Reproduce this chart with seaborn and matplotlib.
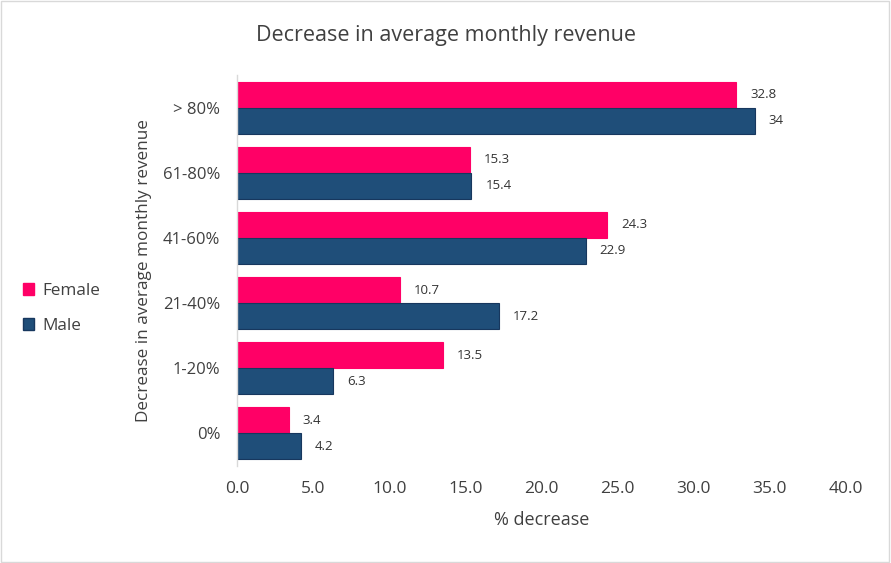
import matplotlib
matplotlib.use("Agg")
import matplotlib.pyplot as plt
import seaborn as sns
import pandas as pd
from matplotlib.patches import Rectangle

categories = ["> 80%", "61-80%", "41-60%", "21-40%", "1-20%", "0%"]
female = [32.8, 15.3, 24.3, 10.7, 13.5, 3.4]
male = [34, 15.4, 22.9, 17.2, 6.3, 4.2]
series = ["Female", "Male"]
colors = {"Female": "#FF0066", "Male": "#1F4E79"}
xticks = [0, 5, 10, 15, 20, 25, 30, 35, 40]

df = pd.DataFrame({
    "cat": categories * 2,
    "val": female + male,
    "sex": ["Female"] * len(categories) + ["Male"] * len(categories),
})

sns.set_theme(style="white")
plt.rcParams['font.family'] = ['Open Sans', 'DejaVu Sans']

fig = plt.figure(figsize=(8.91, 5.63), dpi=100)
ax = fig.add_axes([0.266, 0.1723, 0.9495 - 0.266, 0.8668 - 0.1723])

sns.barplot(data=df, y="cat", x="val", hue="sex", order=categories,
            hue_order=series, palette=colors, orient="h", width=0.8,
            saturation=1, ax=ax, legend=False)

for patch in ax.containers[1]:
    patch.set_edgecolor("#17375E")
    patch.set_linewidth(0.8)
for patch in ax.containers[0]:
    patch.set_edgecolor("#FF0066")
    patch.set_linewidth(0.8)

for cont in ax.containers:
    ax.bar_label(cont, labels=[f"{v:g}" for v in cont.datavalues],
                 padding=10, fontsize=9.5, color="#333333")

ax.set_xlim(0, 40)
ax.set_xticks(xticks)
ax.set_xticklabels([f"{t:.1f}" for t in xticks], fontsize=12.5, color="#404040")
ax.tick_params(axis="y", labelsize=12, labelcolor="#404040", length=0, pad=12)
ax.tick_params(axis="x", length=0, pad=11)
ax.set_ylim(len(categories) - 0.5, -0.5)

for s in ["top", "right", "bottom"]:
    ax.spines[s].set_visible(False)
ax.spines["left"].set_color("#D9D9D9")
ax.spines["left"].set_linewidth(1)

ax.set_xlabel("% decrease", fontsize=13, color="#404040", labelpad=10)
ax.set_ylabel("Decrease in average monthly revenue", fontsize=12.3,
              color="#404040", labelpad=8)

fig.text(0.5, 0.937, "Decrease in average monthly revenue", ha="center",
         va="center", fontsize=15.5, color="#404040")

handles = [Rectangle((0, 0), 1, 1, facecolor=colors["Female"], edgecolor=colors["Female"]),
           Rectangle((0, 0), 1, 1, facecolor=colors["Male"], edgecolor="#17375E")]
fig.legend(handles, series, loc="center left", bbox_to_anchor=(0.008, 0.452),
           frameon=False, fontsize=12.3, handlelength=0.65, handleheight=0.65,
           labelspacing=1.1, handletextpad=0.5, labelcolor="#404040")

fig.add_artist(Rectangle((0.001, 0.001), 0.997, 0.997, transform=fig.transFigure,
                         fill=False, edgecolor="#D9D9D9", linewidth=1))

fig.savefig("out.png", dpi=100)
